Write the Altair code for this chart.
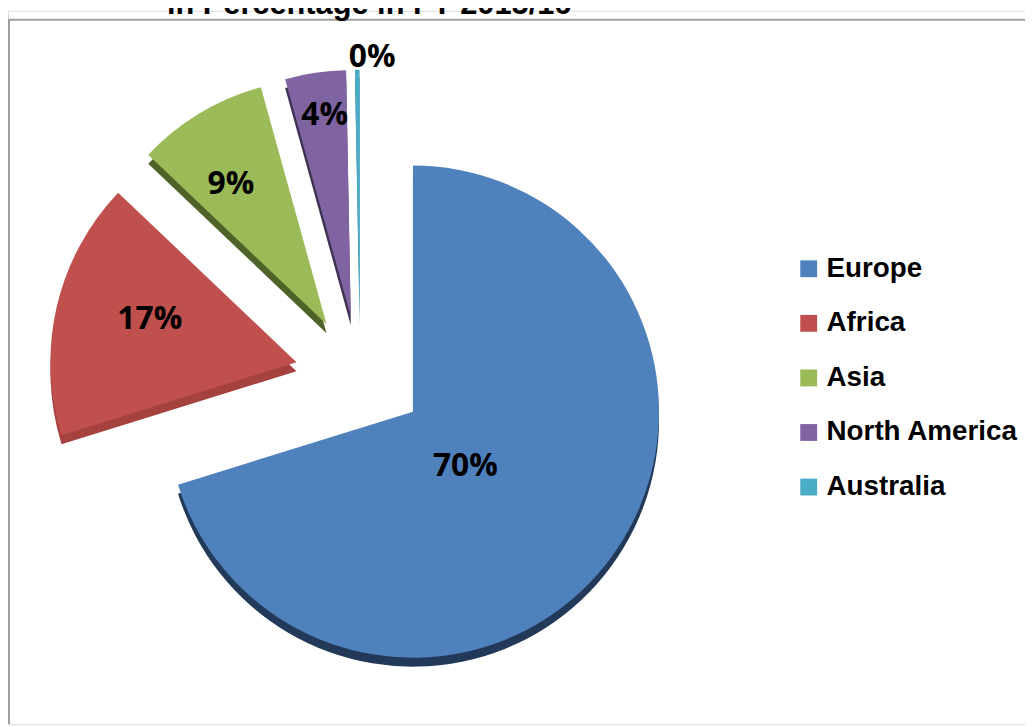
import altair as alt
import pandas as pd

# ---- data ----
regions = ["Europe", "Africa", "Asia", "North America", "Australia"]
shares = [70.2, 16.9, 8.6, 4.0, 0.3]
title_text = "in Percentage in FY 2015/16"

# ---- styles ----
top_colors = ["#4F81BD", "#C0504D", "#9BBB59", "#8064A2", "#4BACC6"]
side_colors = ["#22395A", "#A5423F", "#4F6228", "#3F3151", "#31859C"]

W, H = 1025, 719
CX, CY = 355, 368      # pie centre (px)
R = 248                # pie radius
EXPLODE = 66           # explosion distance
TILT = 0.92            # vertical squash of the explosion (3-D tilt)
DEPTH = 9              # 3-D side depth

df = pd.DataFrame({"region": regions, "pct": shares, "order": list(range(len(regions)))})

base = alt.Chart(df).transform_window(
    cum="sum(pct)", sort=[alt.SortField("order")], frame=[None, 0]
).transform_calculate(
    start="(datum.cum - datum.pct) / 100 * 2 * PI",
    end="datum.cum / 100 * 2 * PI",
).transform_calculate(
    mid="(datum.start + datum.end) / 2",
).transform_calculate(
    cx=f"{CX} + {EXPLODE} * sin(datum.mid)",
    cy=f"{CY} - {EXPLODE} * {TILT} * cos(datum.mid)",
).transform_calculate(
    cys=f"datum.cy + {DEPTH}",
    lr="datum.pct < 1 ? 253 : (datum.pct < 6 ? 197 : (datum.pct < 50 ? 160 : 73))",
    ldx="datum.pct < 1 ? 15 : (datum.pct < 6 ? 2 : (datum.pct < 10 ? -14 : (datum.pct < 50 ? 8 : -6)))",
    ldy="datum.pct < 1 ? -8 : (datum.pct < 6 ? -8 : (datum.pct < 10 ? -4 : (datum.pct < 50 ? -7 : 12)))",
).transform_calculate(
    lx="datum.cx + datum.lr * sin(datum.mid) + datum.ldx",
    ly="datum.cy - datum.lr * cos(datum.mid) + datum.ldy",
    label="format(round(datum.pct), 'd') + '%'",
)

sides = base.mark_arc(outerRadius=R).encode(
    x=alt.X("cx:Q", scale=None),
    y=alt.Y("cys:Q", scale=None),
    theta=alt.Theta("start:Q", scale=None),
    theta2="end:Q",
    color=alt.Color("region:N", scale=alt.Scale(domain=regions, range=side_colors), legend=None),
)

tops = base.mark_arc(outerRadius=R).encode(
    x=alt.X("cx:Q", scale=None),
    y=alt.Y("cy:Q", scale=None),
    theta=alt.Theta("start:Q", scale=None),
    theta2="end:Q",
    color=alt.Color(
        "region:N",
        scale=alt.Scale(domain=regions, range=top_colors),
        legend=alt.Legend(
            title=None,
            orient="none",
            legendX=793,
            legendY=246,
            padding=0,
            symbolType="square",
            symbolSize=289,
            symbolStrokeWidth=0,
            symbolOpacity=1,
            labelFont="Liberation Sans",
            labelFontWeight="bold",
            labelFontSize=28,
            labelColor="#000000",
            labelOffset=4,
            rowPadding=27,
            labelLimit=400,
        ),
    ),
)

labels = base.mark_text(
    font="Open Sans", fontWeight="bold", fontSize=32, color="#000000",
    align="center", baseline="middle",
).encode(
    x=alt.X("lx:Q", scale=None),
    y=alt.Y("ly:Q", scale=None),
    text="label:N",
)

title = alt.Chart(pd.DataFrame({"t": [title_text]})).mark_text(
    font="Liberation Sans", fontWeight="bold", fontSize=31, color="#000000",
    align="center", baseline="alphabetic",
).encode(x=alt.value(364), y=alt.value(3), text="t:N")

frame_df = pd.DataFrame({"b": [0]})
left_line = alt.Chart(frame_df).mark_rule(stroke="#A0A0A0", strokeWidth=2).encode(
    x=alt.value(1), y=alt.value(9), y2=alt.value(H)
)
top_line = alt.Chart(frame_df).mark_rule(stroke="#A0A0A0", strokeWidth=2).encode(
    x=alt.value(0), x2=alt.value(W), y=alt.value(9)
)

chart = alt.layer(left_line, top_line, title, sides, tops, labels).resolve_scale(
    color="independent"
).properties(
    width=W, height=H, autosize=alt.AutoSizeParams(type="none"), padding=0,
).configure_view(stroke=None).configure(background="white")

chart.save("out.html", embed_options={"renderer": "svg", "actions": False})
